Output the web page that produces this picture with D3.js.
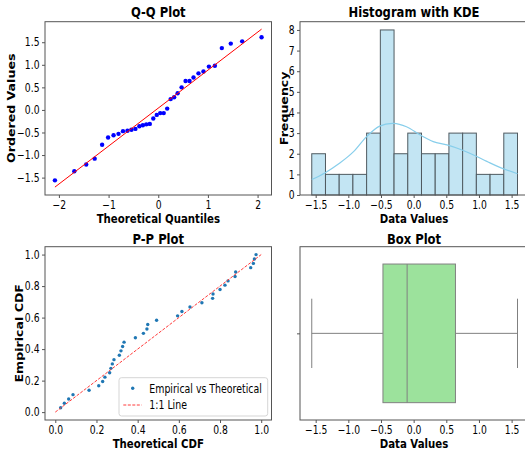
<!DOCTYPE html>
<html>
<head>
<meta charset="utf-8">
<script src="https://cdn.jsdelivr.net/npm/d3@7"></script>
<style>
  body { margin: 0; background: #fff; }
  svg { font-family: "DejaVu Sans", sans-serif; }
</style>
</head>
<body>
<svg width="525" height="455"></svg>
<script>
// ---- data ----
const qqTheoretical = [-2.08, -1.69, -1.45, -1.28, -1.13, -1.01, -0.90, -0.80, -0.71, -0.62, -0.54, -0.46,
  -0.38, -0.31, -0.24, -0.17, -0.10, -0.03, 0.04, 0.11, 0.18, 0.25, 0.32, 0.39, 0.47, 0.55, 0.63, 0.71,
  0.81, 0.91, 1.02, 1.14, 1.28, 1.46, 1.69, 2.08];
const qqOrdered = [-1.56, -1.36, -1.21, -1.08, -0.77, -0.61, -0.56, -0.53, -0.47, -0.46, -0.44, -0.42,
  -0.36, -0.34, -0.32, -0.31, -0.19, -0.11, -0.07, -0.07, 0.03, 0.24, 0.28, 0.37, 0.50, 0.64, 0.64, 0.72,
  0.81, 0.85, 0.96, 0.98, 1.37, 1.47, 1.52, 1.61];
const qqLineX = [-2.08, 2.08];
const qqLineY = [-1.71, 1.79];

const binEdges = [-1.56, -1.35, -1.14, -0.93, -0.72, -0.51, -0.30, -0.09, 0.12, 0.33, 0.54, 0.75, 0.96, 1.17, 1.38, 1.59];
const binCounts = [2, 1, 1, 1, 3, 8, 2, 3, 2, 2, 3, 3, 1, 1, 3];
const kdeX = [-1.56, -1.36, -1.13, -0.92, -0.72, -0.52, -0.31, -0.11, 0.10, 0.30, 0.51, 0.71, 0.91, 1.12, 1.32, 1.59];
const kdeY = [0.75, 1.07, 1.55, 2.10, 2.83, 3.34, 3.47, 3.31, 2.91, 2.59, 2.43, 2.22, 1.95, 1.63, 1.34, 1.03];

const ppTheoretical = [0.026, 0.044, 0.065, 0.086, 0.164, 0.211, 0.230, 0.241, 0.264, 0.270, 0.277, 0.285,
  0.311, 0.319, 0.327, 0.334, 0.389, 0.428, 0.445, 0.449, 0.492, 0.594, 0.615, 0.654, 0.712, 0.764, 0.766,
  0.800, 0.824, 0.839, 0.873, 0.876, 0.949, 0.962, 0.967, 0.975];
const ppEmpirical = [0.028, 0.056, 0.083, 0.111, 0.139, 0.167, 0.194, 0.222, 0.250, 0.278, 0.306, 0.333,
  0.361, 0.389, 0.417, 0.444, 0.472, 0.500, 0.528, 0.556, 0.583, 0.611, 0.639, 0.667, 0.694, 0.722, 0.750,
  0.778, 0.806, 0.833, 0.861, 0.889, 0.917, 0.944, 0.972, 1.000];
const ppLine = [0, 1];

const boxNames = ["min", "q1", "median", "q3", "max"];
const boxValues = [-1.56, -0.47, -0.10, 0.64, 1.59];

const qqXTicks = [-2, -1, 0, 1, 2];
const qqYTicks = [-1.5, -1.0, -0.5, 0.0, 0.5, 1.0, 1.5];
const dataTicks = [-1.5, -1.0, -0.5, 0.0, 0.5, 1.0, 1.5];
const freqTicks = [0, 1, 2, 3, 4, 5, 6, 7, 8];
const cdfTicks = [0.0, 0.2, 0.4, 0.6, 0.8, 1.0];

const svg = d3.select("svg");
const squeeze = 0.81;      // the picture is narrower than tall, text too
const frameColor = "#555";
const tickFont = 11.4;

// panels (frame boxes)
const colLeft = [45, 271.5], colRight = [300, 527.3];
const rowTop = [21.7, 195], rowBottom = [246.7, 420];

function addText(x, y, txt, size, weight, anchor, rotate) {
  svg.append("text")
    .attr("transform", `translate(${x},${y}) scale(${squeeze},1)` + (rotate ? " rotate(-90)" : ""))
    .attr("text-anchor", anchor || "middle")
    .attr("font-size", size)
    .attr("font-weight", weight || "normal")
    .attr("fill", "#000")
    .text(txt);
}

function styleAxis(g) {
  g.attr("font-family", null).attr("font-size", tickFont);
  g.select(".domain").remove();
  g.selectAll(".tick line").attr("stroke", frameColor);
  g.selectAll(".tick text").attr("fill", "#000").attr("transform", `scale(${squeeze},1)`);
}

function bottomAxis(scale, y, ticks, fmt) {
  const g = svg.append("g").attr("transform", `translate(0,${y})`)
    .call(d3.axisBottom(scale).tickValues(ticks).tickFormat(fmt).tickSize(3).tickPadding(2.5));
  styleAxis(g);
}

function leftAxis(scale, x, ticks, fmt) {
  const g = svg.append("g").attr("transform", `translate(${x},0)`)
    .call(d3.axisLeft(scale).tickValues(ticks).tickFormat(fmt).tickSize(3).tickPadding(2.5));
  styleAxis(g);
  g.selectAll(".tick text").attr("x", -5.5 / squeeze);
}

function frame(xr, yr) {
  svg.append("rect")
    .attr("x", xr[0]).attr("y", yr[0])
    .attr("width", xr[1] - xr[0]).attr("height", yr[1] - yr[0])
    .attr("fill", "none").attr("stroke", frameColor).attr("stroke-width", 1);
}

// ---------- Q-Q plot ----------
const qx = d3.scaleLinear().domain([-2.28, 2.28]).range(colLeft);
const qy = d3.scaleLinear().domain([-1.885, 1.955]).range([rowTop[1], rowTop[0]]);

svg.append("g").selectAll("circle")
  .data(qqTheoretical)
  .join("circle")
  .attr("cx", d => qx(d))
  .attr("cy", (d, i) => qy(qqOrdered[i]))
  .attr("r", 2.2)
  .attr("fill", "#0000ff");

svg.append("line")
  .attr("x1", qx(qqLineX[0])).attr("y1", qy(qqLineY[0]))
  .attr("x2", qx(qqLineX[1])).attr("y2", qy(qqLineY[1]))
  .attr("stroke", "#ff0000").attr("stroke-width", 1);

frame(colLeft, rowTop);
bottomAxis(qx, rowTop[1], qqXTicks, d3.format("d"));
leftAxis(qy, colLeft[0], qqYTicks, d3.format(".1f"));
addText(158.3, 17, "Q-Q Plot", 14.3, "bold");
addText(158.3, 222.5, "Theoretical Quantiles", 12.6, "bold");
addText(15, 108.3, "Ordered Values", 12.6, "bold", "middle", true);

// ---------- Histogram ----------
const hx = d3.scaleLinear().domain([-1.74, 1.74]).range(colRight);
const hy = d3.scaleLinear().domain([0, 8.4]).range([rowTop[1], rowTop[0]]);

svg.append("g").selectAll("rect")
  .data(binCounts)
  .join("rect")
  .attr("x", (d, i) => hx(binEdges[i]))
  .attr("y", d => hy(d))
  .attr("width", (d, i) => hx(binEdges[i + 1]) - hx(binEdges[i]))
  .attr("height", d => hy(0) - hy(d))
  .attr("fill", "#c3e5f3")
  .attr("stroke", "#4f5a60")
  .attr("stroke-width", 1);

const kdeLine = d3.line()
  .x((d, i) => hx(kdeX[i]))
  .y(d => hy(d))
  .curve(d3.curveCatmullRom);

svg.append("path")
  .attr("d", kdeLine(kdeY))
  .attr("fill", "none")
  .attr("stroke", "#87ceeb")
  .attr("stroke-width", 1.2);

frame(colRight, rowTop);
bottomAxis(hx, rowTop[1], dataTicks, d3.format(".1f"));
leftAxis(hy, colRight[0], freqTicks, d3.format("d"));
addText(414, 17, "Histogram with KDE", 14.3, "bold");
addText(414, 222.5, "Data Values", 12.6, "bold");
addText(287.5, 108.3, "Frequency", 12.6, "bold", "middle", true);

// ---------- P-P plot ----------
const px = d3.scaleLinear().domain([-0.05, 1.05]).range(colLeft);
const py = d3.scaleLinear().domain([-0.05, 1.05]).range([rowBottom[1], rowBottom[0]]);

svg.append("g").selectAll("circle")
  .data(ppTheoretical)
  .join("circle")
  .attr("cx", d => px(d))
  .attr("cy", (d, i) => py(ppEmpirical[i]))
  .attr("r", 1.7)
  .attr("fill", "#1f77b4");

svg.append("line")
  .attr("x1", px(ppLine[0])).attr("y1", py(ppLine[0]))
  .attr("x2", px(ppLine[1])).attr("y2", py(ppLine[1]))
  .attr("stroke", "#ff3b3b").attr("stroke-width", 1)
  .attr("stroke-dasharray", "3,1.5");

frame(colLeft, rowBottom);
bottomAxis(px, rowBottom[1], cdfTicks, d3.format(".1f"));
leftAxis(py, colLeft[0], cdfTicks, d3.format(".1f"));
addText(158.3, 243.5, "P-P Plot", 14.3, "bold");
addText(158.3, 448, "Theoretical CDF", 12.6, "bold");
addText(22.5, 333.3, "Empirical CDF", 12.6, "bold", "middle", true);

// legend
const lg = svg.append("g");
lg.append("rect")
  .attr("x", 119).attr("y", 377.7).attr("width", 148.7).attr("height", 38.3).attr("rx", 2.5)
  .attr("fill", "#fff").attr("fill-opacity", 0.8)
  .attr("stroke", "#d5d5d5").attr("stroke-width", 1);
lg.append("circle").attr("cx", 132.7).attr("cy", 388.3).attr("r", 1.7).attr("fill", "#1f77b4");
lg.append("line").attr("x1", 123.3).attr("x2", 141.7).attr("y1", 405).attr("y2", 405)
  .attr("stroke", "#ff3b3b").attr("stroke-width", 1).attr("stroke-dasharray", "3,1.5");
addText(149.3, 392.8, "Empirical vs Theoretical", 11.6, "normal", "start");
addText(149.3, 409.3, "1:1 Line", 11.6, "normal", "start");

// ---------- Box plot ----------
const bx = d3.scaleLinear().domain([-1.74, 1.74]).range(colRight);
const by = d3.scaleLinear().domain([-0.5, 0.5]).range([rowBottom[0], rowBottom[1]]);
const boxColor = "#808080";
const bv = Object.fromEntries(boxNames.map((n, i) => [n, boxValues[i]]));

const bg = svg.append("g").attr("stroke", boxColor).attr("stroke-width", 1);
bg.append("line").attr("x1", bx(bv.min)).attr("x2", bx(bv.q1)).attr("y1", by(0)).attr("y2", by(0));
bg.append("line").attr("x1", bx(bv.q3)).attr("x2", bx(bv.max)).attr("y1", by(0)).attr("y2", by(0));
bg.append("line").attr("x1", bx(bv.min)).attr("x2", bx(bv.min)).attr("y1", by(-0.2)).attr("y2", by(0.2));
bg.append("line").attr("x1", bx(bv.max)).attr("x2", bx(bv.max)).attr("y1", by(-0.2)).attr("y2", by(0.2));
bg.append("rect")
  .attr("x", bx(bv.q1)).attr("y", by(-0.4))
  .attr("width", bx(bv.q3) - bx(bv.q1)).attr("height", by(0.4) - by(-0.4))
  .attr("fill", "#9ce29c");
bg.append("line").attr("x1", bx(bv.median)).attr("x2", bx(bv.median)).attr("y1", by(-0.4)).attr("y2", by(0.4));

frame(colRight, rowBottom);
bottomAxis(bx, rowBottom[1], dataTicks, d3.format(".1f"));
leftAxis(by, colRight[0], [0], () => "");
addText(414, 243.5, "Box Plot", 14.3, "bold");
addText(414, 448, "Data Values", 12.6, "bold");
</script>
</body>
</html>
